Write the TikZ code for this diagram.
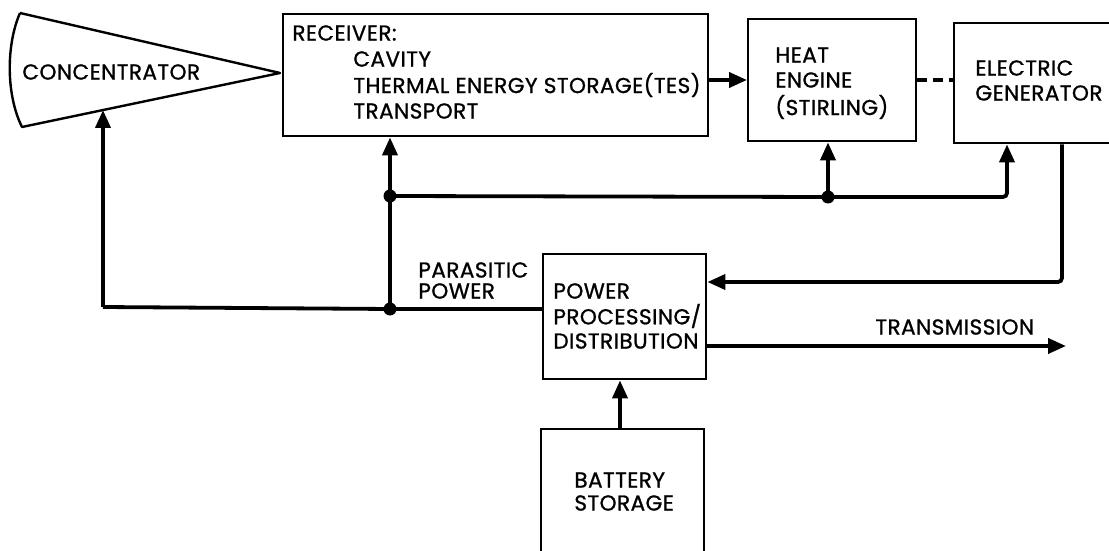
\documentclass[tikz,border=0pt]{standalone}
\usepackage{fontspec}
\setmainfont{Poppins}[FakeBold=1.0, LetterSpace=2]
\usetikzlibrary{arrows.meta}
\begin{document}
\begin{tikzpicture}[x=0.5pt,y=-0.5pt,
  box/.style={draw, line width=1.2pt, inner sep=0pt, anchor=north west},
  wire/.style={line width=1.9pt},
  arr/.style={wire,-{Triangle[length=9pt,width=7.5pt]}},
  lbl/.style={font=\fontsize{10.8}{12}\selectfont, anchor=west, inner sep=0pt},
  jdot/.style={circle, fill, inner sep=0pt, minimum size=6.5pt}]
\useasboundingbox (0,0) rectangle (1109,551);
% concentrator
\draw[line width=1.2pt, line join=round] (20,13) -- (280,73) -- (22,127) .. controls (6,95) and (6,45) .. (20,13);
\coordinate (conc) at (103,110);
\node[lbl] (lconc) at (22,72) {CONCENTRATOR};
% boxes
\node[box, minimum width=212.5pt, minimum height=61pt] (rec) at (282,13) {};
\node[box, minimum width=84pt, minimum height=61pt] (heat) at (747,18) {};
\node[box, minimum width=80pt, minimum height=60pt] (gen) at (953,22) {};
\node[box, minimum width=81.5pt, minimum height=62.5pt] (pp) at (542,253) {};
\node[box, minimum width=81.5pt, minimum height=68pt] (bat) at (540,428) {};
% labels
\node[lbl] (l1) at (292,33) {RECEIVER:};
\node[lbl] (l2) at (353,59) {CAVITY};
\node[lbl] (l3) at (353,85) {THERMAL ENERGY STORAGE(TES)};
\node[lbl] (l4) at (353,111) {TRANSPORT};
\node[lbl] (l5) at (775,55) {HEAT};
\node[lbl] (l6) at (775,80) {ENGINE};
\node[lbl] (l7) at (775,107) {(STIRLING)};
\node[lbl] (l8) at (975,68) {ELECTRIC};
\node[lbl] (l9) at (975,93) {GENERATOR};
\node[lbl] (l10) at (418,270) {PARASITIC};
\node[lbl] (l11) at (418,291) {POWER};
\node[lbl] (l12) at (553,291) {POWER};
\node[lbl] (l13) at (553,316) {PROCESSING/};
\node[lbl] (l14) at (553,341) {DISTRIBUTION};
\node[lbl] (l15) at (875,327) {TRANSMISSION};
\node[lbl] (l16) at (574,480) {BATTERY};
\node[lbl] (l17) at (574,503) {STORAGE};
% junctions
\coordinate (jr) at (390,196);
\coordinate (jp) at (390,309);
\coordinate (jh) at (828,197);
\coordinate (cg) at (1007,197);
\coordinate (cl) at (103,307);
\coordinate (go) at (1062,282);
\coordinate (tx) at (1066,346);
% connectors
\draw[arr] (rec.east |- 0,80) -- (heat.west |- 0,80);
\draw[wire, dash pattern=on 5pt off 3pt] (heat.east |- 0,80) -- (gen.west |- 0,80);
\draw[arr] (jp) -- (rec.south -| jp);
\draw[wire] (pp.west |- jp) -- (jp) -- (cl);
\draw[arr] (cl) -- (conc);
\draw[wire] (jr) -- (jh);
\draw[arr, rounded corners=2pt] (jh) -- (cg) -- (gen.south -| cg);
\draw[arr] (jh) -- (heat.south -| jh);
\draw[arr, rounded corners=2pt] (gen.south -| go) -- (go) -- (pp.east |- go);
\draw[arr] (pp.east |- tx) -- (tx);
\draw[arr] (bat.north -| 620,0) -- (pp.south -| 620,0);
\node[jdot] (d1) at (jr) {};
\node[jdot] (d2) at (jp) {};
\node[jdot] (d3) at (jh) {};
\end{tikzpicture}
\end{document}
